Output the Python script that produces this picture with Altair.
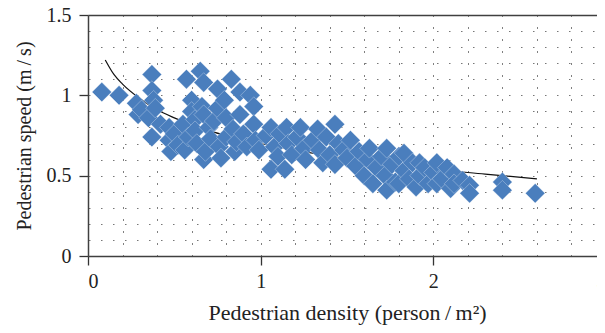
import altair as alt
import pandas as pd

density = [0.08, 0.18, 0.28, 0.29, 0.31, 0.35, 0.37, 0.37, 0.38, 0.39, 0.37, 0.42,
           0.47, 0.47, 0.48, 0.50, 0.52, 0.55, 0.56, 0.57, 0.58, 0.60, 0.60, 0.62, 0.62, 0.63,
           0.65, 0.66, 0.67, 0.67, 0.67, 0.68, 0.70, 0.71, 0.73, 0.75, 0.75, 0.76, 0.77, 0.79,
           0.80, 0.80, 0.83, 0.84, 0.85, 0.86, 0.88, 0.88, 0.90, 0.92, 0.94, 0.96, 0.96, 0.97, 0.99,
           1.03, 1.06, 1.06, 1.08, 1.10, 1.11, 1.14, 1.15, 1.16, 1.18, 1.21, 1.23, 1.25, 1.26,
           1.30, 1.33, 1.34, 1.36, 1.38, 1.40, 1.43, 1.43, 1.45, 1.48, 1.50,
           1.52, 1.55, 1.57, 1.60, 1.62, 1.63, 1.65, 1.67, 1.70, 1.72, 1.73, 1.73, 1.76, 1.78,
           1.80, 1.80, 1.83, 1.83, 1.86, 1.88, 1.90, 1.92, 1.92, 1.95, 1.97,
           2.00, 2.02, 2.02, 2.05, 2.08, 2.10, 2.12, 2.12, 2.17, 2.21, 2.21, 2.40, 2.40, 2.59]
speed = [1.02, 1.00, 0.95, 0.88, 0.91, 0.86, 1.13, 1.03, 0.97, 0.92, 0.74, 0.82,
         0.80, 0.72, 0.65, 0.76, 0.69, 0.82, 0.66, 1.10, 0.74, 0.97, 0.90, 0.85, 0.78, 0.70,
         1.15, 0.93, 1.08, 0.88, 0.60, 0.65, 0.80, 0.73, 0.84, 1.04, 0.92, 0.68, 0.61, 0.97,
         0.86, 0.74, 1.10, 0.79, 0.65, 0.71, 1.02, 0.88, 0.76, 0.68, 1.00, 0.93, 0.82, 0.72, 0.66,
         0.75, 0.80, 0.54, 0.68, 0.62, 0.76, 0.54, 0.80, 0.70, 0.63, 0.74, 0.80, 0.67, 0.60,
         0.72, 0.79, 0.66, 0.58, 0.74, 0.63, 0.82, 0.57, 0.70, 0.66, 0.61,
         0.72, 0.56, 0.65, 0.50, 0.60, 0.67, 0.45, 0.55, 0.62, 0.50, 0.41, 0.67, 0.57, 0.46,
         0.62, 0.45, 0.53, 0.64, 0.48, 0.58, 0.43, 0.58, 0.50, 0.55, 0.45,
         0.52, 0.58, 0.45, 0.48, 0.55, 0.42, 0.51, 0.45, 0.47, 0.44, 0.39, 0.46, 0.41, 0.39]

curve_x = [0.10, 0.15, 0.20, 0.30, 0.40, 0.50, 0.70, 1.00, 1.30, 1.60, 2.00, 2.30, 2.60]
curve_y = [1.22, 1.13, 1.07, 0.98, 0.91, 0.86, 0.78, 0.70, 0.64, 0.59, 0.54, 0.51, 0.48]

x_ticks = [0, 1, 2, 3]
y_ticks = [0, 0.5, 1, 1.5]
x_grid = [0.2, 0.4, 0.6, 0.8, 1.0, 1.2, 1.4, 1.6, 1.8, 2.0, 2.2, 2.4, 2.6, 2.8, 3.0]
y_grid = [0.1, 0.2, 0.3, 0.4, 0.5, 0.6, 0.7, 0.8, 0.9, 1.0, 1.1, 1.2, 1.3, 1.4, 1.5]

pts = pd.DataFrame({"d": density, "s": speed})
crv = pd.DataFrame({"d": curve_x, "s": curve_y})

FONT = "Liberation Serif"
TXT = "#222222"
xs = alt.Scale(domain=[0, 3], nice=False, zero=False)
ys = alt.Scale(domain=[0, 1.5], nice=False, zero=False)

points = alt.Chart(pts).mark_point(
    shape="diamond", filled=True, size=380, color="#4a7ebd", opacity=1,
    stroke="white", strokeWidth=0.3
).encode(
    x=alt.X("d:Q", scale=xs, axis=alt.Axis(
        values=x_ticks, format="~g", grid=False, tickSize=9, tickColor="#333333", tickWidth=1.3,
        domainColor="#404040", domainWidth=1.5, labelFont=FONT, labelFontSize=20,
        labelColor=TXT, labelPadding=6, title="Pedestrian density (person\u2009/\u2009m²)",
        titleFont=FONT, titleFontSize=22, titleFontWeight="normal", titleColor=TXT,
        titlePadding=11, orient="bottom")),
    y=alt.Y("s:Q", scale=ys, axis=alt.Axis(
        values=y_ticks, format="~g", grid=False, tickSize=9, tickColor="#333333", tickWidth=1.3,
        domainColor="#404040", domainWidth=1.5, labelFont=FONT, labelFontSize=20,
        labelColor=TXT, labelPadding=8, title="Pedestrian speed (m\u2009/\u2009s)",
        titleFont=FONT, titleFontSize=20, titleFontWeight="normal", titleColor=TXT,
        titlePadding=12, orient="left")),
)

curve = alt.Chart(crv).mark_line(color="#111111", strokeWidth=1.2, interpolate="monotone").encode(
    x=alt.X("d:Q", scale=xs, axis=alt.Axis(
        orient="top", values=x_grid, grid=True, gridColor="#000000", gridDash=[1, 11],
        gridWidth=1, labels=False, ticks=False, domain=True, domainColor="#404040",
        domainWidth=1.5, title=None)),
    y=alt.Y("s:Q", scale=ys, axis=alt.Axis(
        orient="right", values=y_grid, grid=True, gridColor="#777777", gridDash=[1.5, 10.5],
        gridWidth=1.2, labels=False, ticks=False, domain=False, title=None)),
)

chart = alt.layer(curve, points).resolve_axis(x="independent", y="independent").properties(
    width=518, height=241,
    autosize=alt.AutoSizeParams(type="none"),
    padding={"left": 80, "top": 7, "right": -9, "bottom": 69},
).configure_view(stroke=None).configure(background="white")

chart.save("out.html", embed_options={"renderer": "svg", "actions": False})
